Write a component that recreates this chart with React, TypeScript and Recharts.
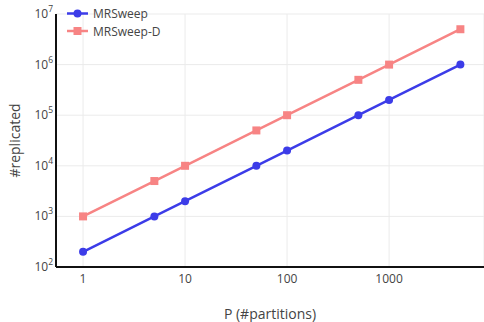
import { LineChart, Line, XAxis, YAxis, CartesianGrid } from "recharts";

const partitions = [1, 5, 10, 50, 100, 500, 1000, 5000];
const mrsweep = [200, 1000, 2000, 10000, 20000, 100000, 200000, 1000000];
const mrsweepD = [1000, 5000, 10000, 50000, 100000, 500000, 1000000, 5000000];
const xTicks = [1, 10, 100, 1000];
const yTicks = [100, 1000, 10000, 100000, 1000000, 10000000];

const BLUE = "#3c3ce8";
const RED = "#f78484";
const FONT = "'Open Sans', sans-serif";

const data = partitions.map((p, i) => ({ p, a: mrsweep[i], b: mrsweepD[i] }));

function YTick(props: any) {
  const { x, y, payload } = props;
  const exp = Math.round(Math.log10(payload.value));
  return (
    <text x={x} y={y} dy={4} textAnchor="end" fill="#444" fontSize={12} fontFamily={FONT}>
      <tspan>10</tspan>
      <tspan dy={-6} fontSize={8.5}>{exp}</tspan>
    </text>
  );
}

function SquareDot(props: any) {
  const { cx, cy, index } = props;
  return <rect key={"s" + index} x={cx - 4} y={cy - 4} width={8} height={8} fill={RED} />;
}

function LegendBox() {
  const items = [
    { name: "MRSweep", color: BLUE, square: false },
    { name: "MRSweep-D", color: RED, square: true },
  ];
  return (
    <svg width={120} height={40} style={{ position: "absolute", left: 62, top: 5 }}>
      {items.map((it, i) => {
        const cy = 8.5 + i * 17.5;
        return (
          <g key={it.name}>
            <line x1={5} x2={26} y1={cy} y2={cy} stroke={it.color} strokeWidth={2.5} />
            {it.square ? (
              <rect x={11.5} y={cy - 4} width={8} height={8} fill={it.color} />
            ) : (
              <circle cx={15.5} cy={cy} r={4} fill={it.color} />
            )}
            <text x={31} y={cy + 4.5} fontSize={12} fill="#444" fontFamily={FONT}>
              {it.name}
            </text>
          </g>
        );
      })}
    </svg>
  );
}

export default function App() {
  return (
    <div style={{ position: "absolute", left: 0, top: 0, width: 484, height: 322, background: "#fff" }}>
      <LineChart width={484} height={322} data={data} margin={{ top: 14, right: 0, bottom: 0, left: 0 }}>
        <CartesianGrid stroke="#ebebeb" strokeWidth={1} />
        <XAxis
          dataKey="p"
          type="number"
          scale="log"
          domain={[0.543, 8520]}
          allowDataOverflow
          ticks={xTicks}
          tickLine={false}
          tickSize={0}
          tickMargin={7}
          height={55}
          axisLine={{ stroke: "#111", strokeWidth: 2 }}
          tick={{ fill: "#444", fontSize: 12, fontFamily: FONT }}
          label={{ value: "P (#partitions)", position: "insideBottom", offset: 3, fill: "#444", fontSize: 14, fontFamily: FONT }}
        />
        <YAxis
          type="number"
          scale="log"
          domain={[100, 10000000]}
          allowDataOverflow
          ticks={yTicks}
          tickLine={false}
          tickSize={0}
          tickMargin={3}
          width={56}
          axisLine={{ stroke: "#111", strokeWidth: 2 }}
          tick={<YTick />}
          label={{
            value: "#replicated",
            angle: -90,
            position: "insideLeft",
            offset: 15,
            fill: "#444",
            fontSize: 14,
            fontFamily: FONT,
            style: { textAnchor: "middle" },
          }}
        />
        <Line
          dataKey="a"
          name="MRSweep"
          stroke={BLUE}
          strokeWidth={2.5}
          dot={{ r: 4, fill: BLUE, stroke: BLUE, strokeWidth: 0 }}
          activeDot={false}
          isAnimationActive={false}
        />
        <Line
          dataKey="b"
          name="MRSweep-D"
          stroke={RED}
          strokeWidth={2.5}
          dot={<SquareDot />}
          activeDot={false}
          isAnimationActive={false}
        />
      </LineChart>
      <LegendBox />
    </div>
  );
}
